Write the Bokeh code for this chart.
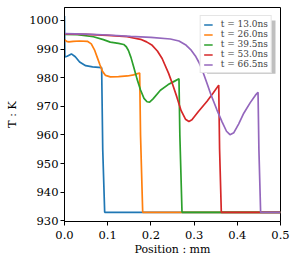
from bokeh.plotting import figure
from bokeh.models import Range1d, FixedTicker, Legend, LegendItem, PrintfTickFormatter, BoxAnnotation
from bokeh.embed import file_html
from bokeh.resources import INLINE

labels = ["t = 13.0ns", "t = 26.0ns", "t = 39.5ns", "t = 53.0ns", "t = 66.5ns"]
colors = ["#1f77b4", "#ff7f0e", "#2ca02c", "#d62728", "#9467bd"]

x_13 = [0.0, 0.0008, 0.006, 0.016, 0.025, 0.035, 0.049, 0.065, 0.086, 0.0885, 0.093, 0.5]
y_13 = [1001.5, 987.2, 987.5, 988.3, 987.3, 985.5, 984.2, 983.8, 983.5, 955.0, 933.0, 933.0]

x_26 = [0.0, 0.005, 0.01, 0.02, 0.035, 0.053, 0.062, 0.07, 0.076, 0.082, 0.088, 0.095,
        0.106, 0.125, 0.146, 0.16, 0.169, 0.174, 0.176, 0.181, 0.5]
y_26 = [993.3, 992.7, 992.5, 992.7, 992.8, 992.7, 991.8, 989.5, 987.0, 984.5, 982.2, 980.8,
        980.3, 980.4, 980.6, 981.0, 981.4, 981.6, 960.0, 933.0, 933.0]

x_39 = [0.0, 0.03, 0.067, 0.09, 0.106, 0.125, 0.137, 0.143, 0.148, 0.154, 0.16, 0.168,
        0.176, 0.184, 0.191, 0.197, 0.205, 0.222, 0.24, 0.255, 0.265, 0.267, 0.272, 0.5]
y_39 = [995.1, 995.0, 994.3, 993.3, 992.4, 992.0, 991.6, 990.8, 989.5, 987.0, 983.8, 979.5,
        975.7, 972.8, 971.6, 971.5, 972.6, 975.6, 977.6, 978.8, 979.6, 960.0, 933.0, 933.0]

x_53 = [0.0, 0.05, 0.1, 0.145, 0.176, 0.19, 0.203, 0.215, 0.226, 0.241, 0.249, 0.26,
        0.27, 0.28, 0.288, 0.295, 0.31, 0.33, 0.345, 0.357, 0.359, 0.363, 0.5]
y_53 = [995.3, 995.1, 994.8, 994.3, 993.4, 992.5, 991.3, 989.3, 986.7, 981.5, 978.2, 973.3,
        968.5, 965.5, 964.7, 965.3, 968.2, 971.8, 974.8, 977.4, 955.0, 933.0, 933.0]

x_66 = [0.0, 0.05, 0.1, 0.153, 0.2, 0.245, 0.265, 0.28, 0.292, 0.303, 0.311, 0.319, 0.33,
        0.338, 0.353, 0.365, 0.375, 0.383, 0.392, 0.403, 0.415, 0.43, 0.442, 0.448, 0.45,
        0.454, 0.5]
y_66 = [995.4, 995.2, 994.9, 994.4, 994.1, 993.5, 992.8, 991.5, 989.8, 987.6, 985.4, 982.6,
        978.0, 974.5, 968.7, 964.5, 961.3, 960.1, 960.8, 963.8, 967.6, 971.3, 973.9, 974.9,
        955.0, 933.0, 933.0]

xs = [x_13, x_26, x_39, x_53, x_66]
ys = [y_13, y_26, y_39, y_53, y_66]

x_ticks = [0.0, 0.1, 0.2, 0.3, 0.4, 0.5]
y_ticks = [930, 940, 950, 960, 970, 980, 990, 1000]

FONT = "DejaVu Serif"

p = figure(width=299, height=258, output_backend="svg", toolbar_location=None,
           x_range=Range1d(0.0, 0.5), y_range=Range1d(929.8, 1004.5),
           min_border_left=64, min_border_right=19, min_border_top=7, min_border_bottom=36)
p.background_fill_color = "white"
p.border_fill_color = "white"
p.outline_line_color = "black"
p.outline_line_width = 1
p.xgrid.visible = False
p.ygrid.visible = False

items = []
for x, y, c, lab in zip(xs, ys, colors, labels):
    r = p.line(x, y, line_color=c, line_width=1.7)
    items.append(LegendItem(label=lab, renderers=[r]))

for ax in (p.xaxis[0], p.yaxis[0]):
    ax.axis_line_color = "black"
    ax.major_tick_line_color = "black"
    ax.minor_tick_line_color = None
    ax.major_tick_out = 4
    ax.major_tick_in = 0
    ax.major_label_text_font = FONT
    ax.major_label_text_font_size = "11.5px"
    ax.major_label_text_color = "black"
    ax.axis_label_text_font = FONT
    ax.axis_label_text_font_size = "11px"
    ax.axis_label_text_font_style = "normal"
    ax.axis_label_text_color = "black"

p.xaxis[0].major_label_standoff = 5
p.xaxis[0].axis_label_standoff = 1
p.yaxis[0].major_label_standoff = 2
p.yaxis[0].axis_label_standoff = 7

p.xaxis[0].ticker = FixedTicker(ticks=x_ticks)
p.xaxis[0].formatter = PrintfTickFormatter(format="%.1f")
p.yaxis[0].ticker = FixedTicker(ticks=y_ticks)
p.xaxis[0].axis_label = "Position : mm"
p.yaxis[0].axis_label = "T : K"

# legend drop shadow (decoration)
shadow = BoxAnnotation(left=0.33, right=0.4884, top=1000.0, bottom=981.4,
                       fill_color="#808080", fill_alpha=0.5, line_color=None, level="annotation")
p.add_layout(shadow)

legend = Legend(items=items, location="top_right")
legend.margin = 8
legend.padding = 3
legend.spacing = 0
legend.glyph_width = 9
legend.glyph_height = 9
legend.label_height = 9
legend.label_standoff = 8
legend.label_text_font = FONT
legend.label_text_font_size = "9px"
legend.label_text_line_height = 0.9
legend.border_line_color = "#cccccc"
legend.border_line_width = 1
legend.background_fill_color = "white"
legend.background_fill_alpha = 1.0
p.add_layout(legend)

open("out.html", "w").write(file_html(p, INLINE))
